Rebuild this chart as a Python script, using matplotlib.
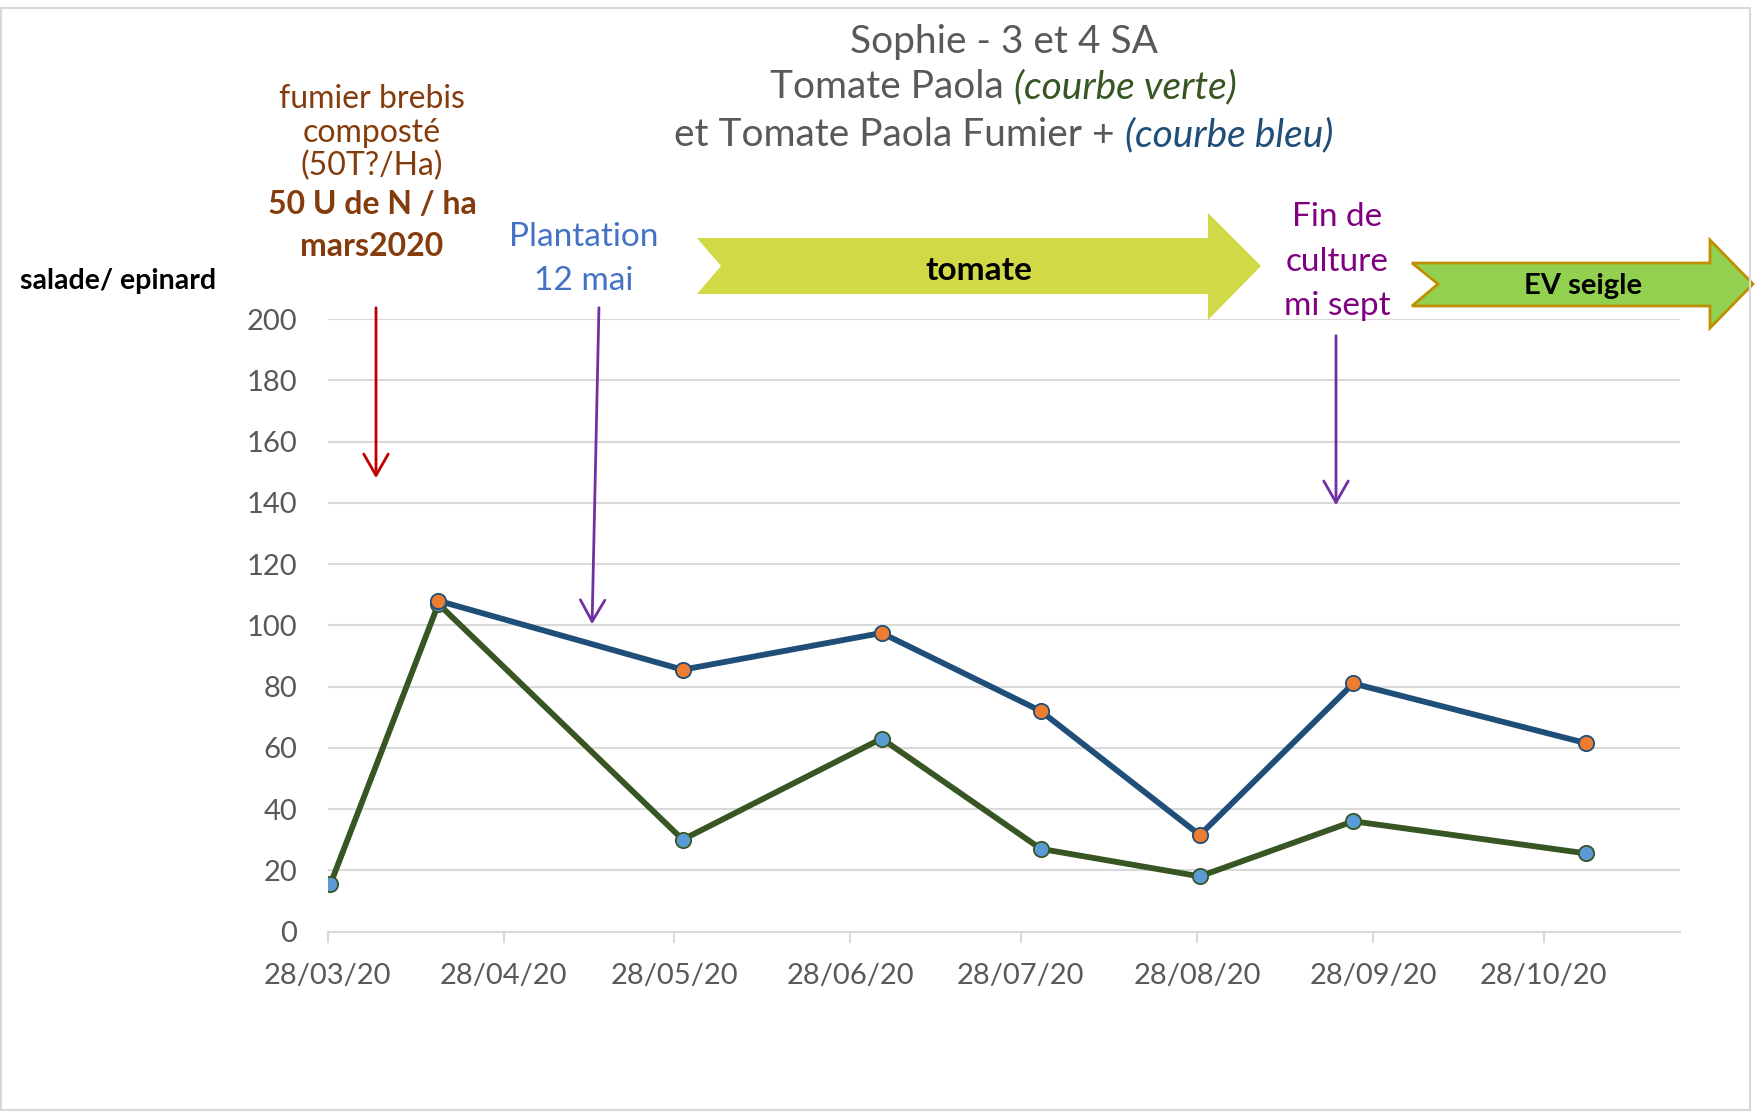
import matplotlib
matplotlib.use("Agg")
import matplotlib.pyplot as plt
from matplotlib.patches import Polygon, Rectangle, FancyArrowPatch
import numpy as np

plt.rcParams['font.family'] = ['Lato', 'DejaVu Sans']

# données
dates_verte = ["2020-03-28T12", "2020-04-16T12", "2020-05-29T12", "2020-07-03T12",
               "2020-07-31T12", "2020-08-28T12", "2020-09-24T12", "2020-11-04T12"]
paola = [15.5, 107, 30, 63, 27, 18, 36, 25.5]
dates_bleu = ["2020-04-16T12", "2020-05-29T12", "2020-07-03T12",
              "2020-07-31T12", "2020-08-28T12", "2020-09-24T12", "2020-11-04T12"]
paola_fumier = [108, 85.5, 97.5, 72, 31.5, 81, 61.5]
tick_dates = ["2020-03-28", "2020-04-28", "2020-05-28", "2020-06-28",
              "2020-07-28", "2020-08-28", "2020-09-28", "2020-10-28"]
tick_labels = ["28/03/20", "28/04/20", "28/05/20", "28/06/20",
               "28/07/20", "28/08/20", "28/09/20", "28/10/20"]
y_ticks = [0, 20, 40, 60, 80, 100, 120, 140, 160, 180, 200]

W, H = 1762, 1113
GRAY = "#595959"
GRID = "#D9D9D9"


def px(x, y):
    """pixel (depuis le haut-gauche) -> fraction de figure"""
    return x / W, 1 - y / H


fig = plt.figure(figsize=(W / 100, H / 100), dpi=100)
ax = fig.add_axes([327.6 / W, 1 - 931.5 / H, (1680 - 327.6) / W, (931.5 - 319.1) / H])

d_v = np.array(dates_verte, dtype="datetime64[h]")
d_b = np.array(dates_bleu, dtype="datetime64[h]")
ax.plot(d_v, paola, "-o", color="#375623", lw=4.2, markersize=11,
        markerfacecolor="#5B9BD5", markeredgecolor="#375623", markeredgewidth=1.3, zorder=3)
ax.plot(d_b, paola_fumier, "-o", color="#1F4E79", lw=4.2, markersize=11,
        markerfacecolor="#ED7D31", markeredgecolor="#1F4E79", markeredgewidth=1.3, zorder=4)

ax.set_xlim(np.datetime64("2020-03-28T00", "h"), np.datetime64("2020-11-21T00", "h"))
ax.set_ylim(0, 200)
ax.set_yticks(y_ticks)
ax.set_xticks(np.array(tick_dates, dtype="datetime64[h]"))
ax.set_xticklabels(tick_labels)
ax.grid(axis="y", color=GRID, lw=1.5)
ax.set_axisbelow(True)
for s in ["top", "right", "left"]:
    ax.spines[s].set_visible(False)
ax.spines["bottom"].set_color(GRID)
ax.spines["bottom"].set_linewidth(1.5)
ax.tick_params(axis="x", colors=GRID, length=8, width=1.5, labelcolor=GRAY, labelsize=21, pad=15)
ax.tick_params(axis="y", length=0, labelcolor=GRAY, labelsize=21, pad=22)

# titre multicolore, chaque ligne centrée
renderer = fig.canvas.get_renderer()
title_lines = [
    (42, [("Sophie - 3 et 4 SA", GRAY, "normal")]),
    (87, [("Tomate Paola ", GRAY, "normal"), ("(courbe verte)", "#375623", "italic")]),
    (135, [("et Tomate Paola Fumier + ", GRAY, "normal"), ("(courbe bleu)", "#1F4E79", "italic")]),
]
for yc, parts in title_lines:
    texts = []
    for s, c, st in parts:
        t = fig.text(0, 0, s, color=c, style=st, fontsize=28, va="center", ha="left")
        texts.append(t)
    widths = [t.get_window_extent(renderer).width for t in texts]
    x0 = 1003.5 - sum(widths) / 2
    for t, w in zip(texts, widths):
        t.set_position(px(x0, yc))
        x0 += w

# annotations
BROWN = "#843C0C"
for yc, s, fw in [(99, "fumier brebis", "normal"), (133, "composté", "normal"),
                  (166, "(50T?/Ha)", "normal"), (204, "50 U de N / ha", "bold"),
                  (246, "mars2020", "bold")]:
    fig.text(*px(372, yc), s, color=BROWN, fontsize=23, fontweight=fw, ha="center", va="center")
for yc, s in [(237, "Plantation"), (281, "12 mai")]:
    fig.text(*px(584, yc), s, color="#4472C4", fontsize=24, ha="center", va="center")
for yc, s in [(217, "Fin de"), (262, "culture"), (306, "mi sept")]:
    fig.text(*px(1337, yc), s, color="#800080", fontsize=24, ha="center", va="center")
fig.text(*px(20, 281), "salade/ epinard", color="black", fontsize=20.5, fontweight="bold",
         ha="left", va="center")

# flèches
for (x1, y1), (x2, y2), c in [((376, 305), (376, 481), "#C00000"),
                              ((599, 305), (592, 627), "#7030A0"),
                              ((1336, 333), (1336, 508), "#7030A0")]:
    fig.add_artist(FancyArrowPatch(px(x1, y1), px(x2, y2), transform=fig.transFigure,
                                   arrowstyle="->,head_length=0.7,head_width=0.4",
                                   mutation_scale=22, color=c, lw=2))

# chevrons
tomate = [(697, 238), (1208, 238), (1208, 213), (1261, 266), (1208, 320),
          (1208, 294), (697, 294), (721, 266)]
fig.add_artist(Polygon([px(*p) for p in tomate], closed=True, transform=fig.transFigure,
                       facecolor="#D1D947", edgecolor="none"))
fig.text(*px(979, 270), "tomate", fontsize=24, fontweight="bold", ha="center", va="center")
seigle = [(1412, 263), (1710, 263), (1710, 240), (1753, 284), (1710, 328),
          (1710, 306), (1412, 306), (1438, 284)]
fig.add_artist(Polygon([px(*p) for p in seigle], closed=True, transform=fig.transFigure,
                       facecolor="#92D050", edgecolor="#BF8F00", lw=2))
fig.text(*px(1583, 286), "EV seigle", fontsize=21, fontweight="bold", ha="center", va="center")

# cadre
x0, y0 = px(1, 1110)
x1, y1 = px(1750, 8)
fig.add_artist(Rectangle((x0, y0), x1 - x0, y1 - y0, transform=fig.transFigure,
                         fill=False, edgecolor=GRID, lw=1.5))

fig.savefig("out.png", dpi=100)
